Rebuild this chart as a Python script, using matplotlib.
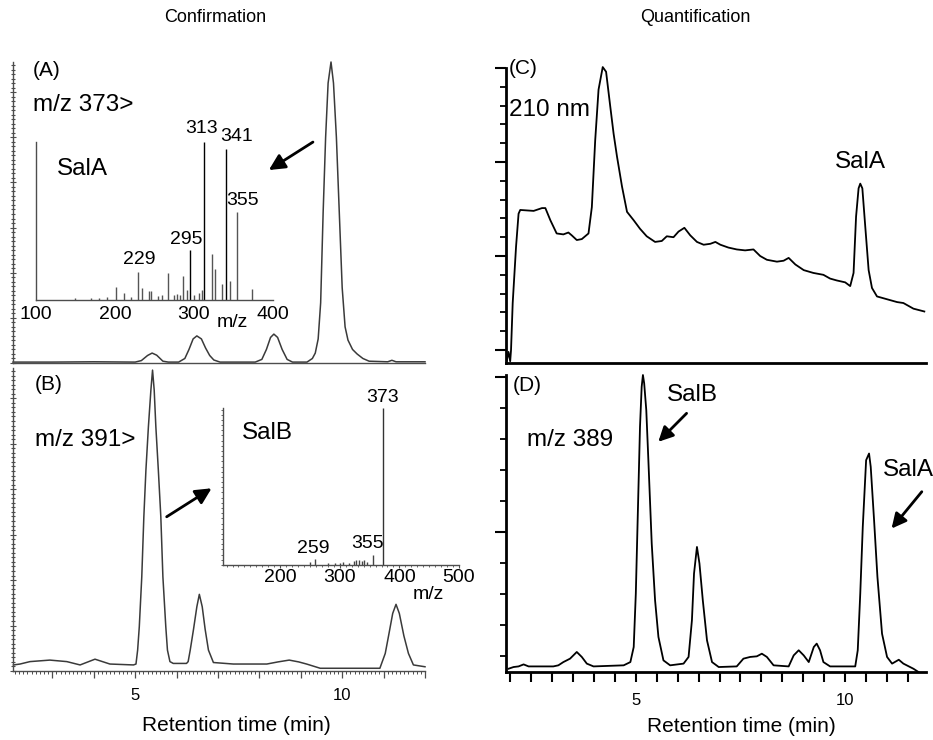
import matplotlib
matplotlib.use('Agg')
import matplotlib.pyplot as plt
from matplotlib.ticker import MultipleLocator, FuncFormatter, NullLocator

plt.rcParams['font.family'] = ['Liberation Sans', 'DejaVu Sans']

# ---------------- data ----------------
# (A) m/z 373> chromatogram: retention time (min) / intensity (% of full scale)
a_time = [2.05, 3.0, 4.0, 5.0, 5.15, 5.3, 5.41, 5.52, 5.67, 5.8,
          6.05, 6.2, 6.3, 6.4, 6.49, 6.6, 6.7, 6.8, 6.9, 7.05,
          7.9, 8.06, 8.17, 8.27, 8.35, 8.44, 8.55, 8.67, 8.8,
          9.15, 9.28, 9.35, 9.42, 9.48, 9.54, 9.6, 9.66, 9.73, 9.79, 9.86,
          9.93, 10.0, 10.07, 10.14, 10.25, 10.36, 10.5, 10.65,
          11.1, 11.2, 11.3, 12.0]
a_int = [0.3, 0.3, 0.4, 0.3, 0.8, 2.5, 3.3, 2.6, 0.6, 0.3,
         0.3, 1.5, 4.5, 8, 9, 8, 5, 2.5, 1, 0.3,
         0.3, 1.2, 4.5, 8.5, 9.6, 8.5, 4.5, 1.2, 0.3,
         0.3, 1.5, 3.3, 8, 20, 50, 75, 93, 100, 93, 75,
         50, 25, 12, 7.6, 4.5, 3, 1.5, 0.6,
         0.4, 0.9, 0.4, 0.4]

# (B) m/z 391> chromatogram
b_time = [2.06, 2.22, 2.46, 2.94, 3.35, 3.67, 4.03, 4.39, 4.96, 5.02,
          5.06, 5.10, 5.16, 5.21, 5.26, 5.32, 5.38, 5.42, 5.46, 5.50,
          5.56, 5.62, 5.67, 5.74, 5.78, 5.84, 5.92, 6.24, 6.28, 6.33,
          6.41, 6.49, 6.55, 6.62, 6.69, 6.77, 6.89, 7.37, 8.18, 8.45,
          8.72, 8.95, 9.14, 9.47, 10.91, 11.04, 11.12, 11.22, 11.30, 11.38,
          11.49, 11.60, 11.72, 12.00]
b_int = [2.0, 2.3, 3.1, 3.6, 3.1, 2.0, 3.9, 2.3, 2.0, 2.3,
         6.9, 14.6, 31.1, 50.9, 66.3, 80.6, 92.7, 99.3, 92.7, 80.6,
         66.3, 50.9, 31.1, 14.6, 6.9, 3.1, 2.5, 2.5, 3.1, 6.9,
         13.8, 21.2, 25.3, 21.2, 13.8, 6.9, 2.8, 2.3, 2.3, 3.0,
         3.6, 3.0, 2.3, 0.9, 0.9, 5.8, 11.6, 19.0, 22.0, 19.0,
         11.6, 5.8, 2.0, 1.4]

# (C) UV 210 nm chromatogram
c_time = [1.92, 1.96, 2.00, 2.02, 2.06, 2.14, 2.20, 2.24, 2.56, 2.76,
          2.84, 2.96, 3.11, 3.27, 3.39, 3.47, 3.59, 3.71, 3.87, 3.95,
          4.03, 4.11, 4.21, 4.29, 4.39, 4.47, 4.55, 4.67, 4.79, 4.95,
          5.10, 5.26, 5.46, 5.62, 5.74, 5.90, 6.02, 6.16, 6.30, 6.46,
          6.62, 6.78, 6.90, 7.02, 7.21, 7.41, 7.61, 7.81, 7.97, 8.13,
          8.37, 8.53, 8.65, 8.81, 9.01, 9.24, 9.48, 9.64, 9.80, 10.00,
          10.12, 10.20, 10.26, 10.32, 10.36, 10.41, 10.48, 10.56, 10.64, 10.76,
          11.00, 11.24, 11.39, 11.63, 11.89]
c_abs = [-0.11, -0.02, -0.12, 0.00, 0.50, 1.10, 1.45, 1.49, 1.48, 1.51,
         1.51, 1.38, 1.24, 1.23, 1.25, 1.22, 1.17, 1.18, 1.24, 1.52,
         2.23, 2.77, 3.01, 2.96, 2.59, 2.30, 2.06, 1.74, 1.47, 1.38,
         1.29, 1.21, 1.15, 1.16, 1.21, 1.20, 1.26, 1.30, 1.22, 1.15,
         1.12, 1.13, 1.15, 1.12, 1.09, 1.07, 1.06, 1.07, 1.00, 0.96,
         0.94, 0.95, 0.98, 0.91, 0.85, 0.82, 0.80, 0.76, 0.74, 0.72,
         0.68, 0.82, 1.42, 1.72, 1.77, 1.72, 1.31, 0.85, 0.66, 0.57,
         0.54, 0.51, 0.50, 0.44, 0.41]

# (D) m/z 389 chromatogram
d_time = [1.96, 2.08, 2.20, 2.32, 2.44, 3.03, 3.15, 3.27, 3.43, 3.59,
          3.71, 3.83, 3.99, 4.71, 4.87, 4.95, 5.00, 5.05, 5.10, 5.14,
          5.17, 5.20, 5.25, 5.30, 5.38, 5.46, 5.54, 5.66, 5.82, 6.14,
          6.26, 6.34, 6.39, 6.46, 6.52, 6.60, 6.70, 6.82, 6.98, 7.41,
          7.57, 7.73, 7.89, 8.01, 8.13, 8.29, 8.65, 8.77, 8.89, 9.01,
          9.13, 9.25, 9.32, 9.40, 9.48, 9.64, 10.24, 10.30, 10.36, 10.42,
          10.50, 10.57, 10.61, 10.69, 10.77, 10.88, 11.00, 11.12, 11.28, 11.39,
          11.63, 11.75]
d_sig = [0.118, 0.129, 0.133, 0.146, 0.133, 0.133, 0.140, 0.161, 0.183, 0.226,
         0.194, 0.151, 0.133, 0.140, 0.161, 0.258, 0.602, 1.140, 1.677, 1.935,
         2.011, 1.957, 1.785, 1.462, 0.925, 0.559, 0.323, 0.172, 0.140, 0.151,
         0.194, 0.430, 0.731, 0.903, 0.796, 0.559, 0.301, 0.161, 0.129, 0.133,
         0.183, 0.194, 0.198, 0.215, 0.194, 0.140, 0.133, 0.204, 0.237, 0.204,
         0.161, 0.258, 0.280, 0.237, 0.161, 0.133, 0.133, 0.237, 0.602, 1.032,
         1.462, 1.505, 1.419, 1.075, 0.710, 0.344, 0.194, 0.151, 0.176, 0.151,
         0.118, 0.097]

# MS/MS spectrum of SalA (m/z / relative intensity %)
sa_mz = [150, 170, 180, 190, 201, 211, 220, 229, 234, 243,
         246, 255, 260, 267, 275, 278, 282, 286, 291, 295,
         300, 306, 310, 313, 323, 327, 336, 341, 345, 355, 373]
sa_rel = [1, 1, 1.5, 2, 8.3, 4.5, 2, 17.8, 7.6, 5.7,
          5.7, 2.5, 3, 17.2, 3, 3.8, 3, 15.3, 6.4, 31.8,
          3, 4.5, 6.4, 100, 29.3, 19.7, 10.2, 95.5, 12.1, 55.4, 7.0]
sa_labeled = [229, 295, 313, 341, 355]

# MS/MS spectrum of SalB
sb_mz = [250, 259, 280, 292, 300, 306, 315, 324, 328, 332, 337, 341, 345, 355, 373]
sb_rel = [1.9, 3.8, 1.3, 1.3, 1.5, 1.9, 1.3, 2.5, 3.2, 3.2, 2.5, 3.2, 1.9, 6.4, 100]
sb_labeled = [259, 355, 373]

rt_ticklabels = [5, 10]

# ---------------- layout ----------------
W, H = 933, 740


def box(l, t, r, b):
    return [l / W, 1 - b / H, (r - l) / W, (b - t) / H]


fig = plt.figure(figsize=(W / 100, H / 100), dpi=100)
axA = fig.add_axes(box(13, 62, 425, 363))
axB = fig.add_axes(box(13, 368, 425, 671))
axC = fig.add_axes(box(506, 68, 926, 363))
axD = fig.add_axes(box(506, 375, 926, 672))
insA = fig.add_axes(box(36, 142, 273, 300))
insB = fig.add_axes(box(223, 408, 459, 565))

grey = '#4d4d4d'
BIG = 17.5
rt_fmt = FuncFormatter(lambda v, p: f'{v:g}' if round(v, 3) in rt_ticklabels else '')

# ---- panels A and B (confirmation, LC-MS/MS) ----
for ax in (axA, axB):
    ax.set_facecolor('none')
    for s in ('top', 'right'):
        ax.spines[s].set_visible(False)
    for s in ('left', 'bottom'):
        ax.spines[s].set_color(grey)
        ax.spines[s].set_linewidth(1.0)
    ax.set_xlim(2.05, 12.0)
    ax.set_ylim(0, 100)
    ax.yaxis.set_major_locator(MultipleLocator(15))
    ax.yaxis.set_minor_locator(MultipleLocator(1.5))
    ax.yaxis.set_major_formatter(FuncFormatter(lambda v, p: ''))
    ax.tick_params(axis='y', which='major', direction='inout', length=5, width=0.8, color=grey)
    ax.tick_params(axis='y', which='minor', direction='inout', length=3, width=0.8, color=grey)

axA.plot(a_time, a_int, color='#3a3a3a', lw=1.1, clip_on=False)
axA.xaxis.set_major_locator(NullLocator())
axA.text(0.048, 0.973, '(A)', transform=axA.transAxes, fontsize=15, va='center', ha='left')
axA.text(0.048, 0.857, 'm/z 373>', transform=axA.transAxes, fontsize=BIG, va='center', ha='left')
axA.annotate('', xy=(0.621, 0.641), xytext=(0.728, 0.734), xycoords='axes fraction',
             arrowprops=dict(arrowstyle='-|>', lw=2.0, color='black', mutation_scale=24,
                             shrinkA=0, shrinkB=0))

axB.plot(b_time, b_int, color='#3a3a3a', lw=1.1, clip_on=False)
axB.xaxis.set_major_locator(MultipleLocator(1))
axB.xaxis.set_minor_locator(MultipleLocator(0.1))
axB.xaxis.set_major_formatter(rt_fmt)
axB.tick_params(axis='x', which='major', direction='out', length=5, width=0.9, color=grey,
                labelsize=12, pad=7)
axB.tick_params(axis='x', which='minor', direction='out', length=2.5, width=0.7, color=grey)
axB.set_xlabel('Retention time (min)', fontsize=15)
axB.xaxis.set_label_coords(0.541, -0.147)
axB.text(0.053, 0.944, '(B)', transform=axB.transAxes, fontsize=15, va='center', ha='left')
axB.text(0.053, 0.762, 'm/z 391>', transform=axB.transAxes, fontsize=BIG, va='center', ha='left')
axB.annotate('', xy=(0.482, 0.603), xytext=(0.373, 0.509), xycoords='axes fraction',
             arrowprops=dict(arrowstyle='-|>', lw=2.0, color='black', mutation_scale=24,
                             shrinkA=0, shrinkB=0))

# ---- insets: MS/MS spectra ----
for ins in (insA, insB):
    ins.set_facecolor('none')
    for s in ('top', 'right'):
        ins.spines[s].set_visible(False)
    for s in ('left', 'bottom'):
        ins.spines[s].set_color(grey)
        ins.spines[s].set_linewidth(1.0)
    ins.set_ylim(0, 100)
    ins.yaxis.set_major_locator(NullLocator())

insA.set_xlim(100, 400)
sa_col = ['black' if m in sa_labeled[1:4] else '#555555' for m in sa_mz]
insA.vlines(sa_mz, 0, sa_rel, colors=sa_col, lw=1.0)
insA.set_xticks([100, 200, 300, 400])
insA.tick_params(axis='x', length=0, labelsize=14, pad=4)
insA.text(349, -14, 'm/z', fontsize=14, ha='center', va='center', clip_on=False)
insA.text(126, 82.8, 'SalA', fontsize=BIG, ha='left', va='center')
sa_label_pos = {229: (230.8, 25.5), 295: (289.9, 38.2), 313: (309.7, 108.3),
                341: (354.0, 103.2), 355: (361.6, 63.2)}
for m in sa_labeled:
    x, y = sa_label_pos[m]
    insA.text(x, y, str(m), fontsize=14, ha='center', va='center', clip_on=False)

insB.set_xlim(104, 500)
insB.vlines(sb_mz, 0, sb_rel, colors=['#444444'] * (len(sb_mz) - 1) + ['#333333'], lw=1.0)
insB.set_xticks([200, 300, 400, 500])
insB.xaxis.set_minor_locator(MultipleLocator(10))
insB.yaxis.set_minor_locator(MultipleLocator(3.3))
insB.tick_params(axis='x', which='major', length=2, color=grey, labelsize=14, pad=1)
insB.tick_params(axis='both', which='minor', length=1.5, width=0.6, color=grey)
insB.text(448, -19, 'm/z', fontsize=14, ha='center', va='center', clip_on=False)
insB.text(135.8, 83.9, 'SalB', fontsize=BIG, ha='left', va='center')
sb_label_pos = {259: (255.3, 10.8), 355: (345.7, 14.0), 373: (372.5, 106.8)}
for m in sb_labeled:
    x, y = sb_label_pos[m]
    insB.text(x, y, str(m), fontsize=14, ha='center', va='center', clip_on=False)

# ---- panels C and D (quantification) ----
for ax in (axC, axD):
    ax.set_facecolor('none')
    for s in ('top', 'right'):
        ax.spines[s].set_visible(False)
    for s in ('left', 'bottom'):
        ax.spines[s].set_color('black')
        ax.spines[s].set_linewidth(2.0)
    ax.set_xlim(1.90, 11.93)
    ax.yaxis.set_major_locator(MultipleLocator(1))
    ax.yaxis.set_minor_locator(MultipleLocator(0.2))
    ax.yaxis.set_major_formatter(FuncFormatter(lambda v, p: ''))
    ax.tick_params(axis='y', which='major', direction='out', length=8, width=1.5)
    ax.tick_params(axis='y', which='minor', direction='out', length=4, width=1.3)

axC.set_ylim(-0.138, 3.0)
axC.plot(c_time, c_abs, color='black', lw=1.3, clip_on=False)
axC.xaxis.set_major_locator(NullLocator())
axC.text(0.007, 1.0, '(C)', transform=axC.transAxes, fontsize=15, va='center', ha='left')
axC.text(0.007, 0.858, '210 nm', transform=axC.transAxes, fontsize=BIG, va='center', ha='left')
axC.text(0.8445, 0.68, 'SalA', transform=axC.transAxes, fontsize=BIG, va='center', ha='center')

axD.set_ylim(0.097, 2.011)
axD.plot(d_time, d_sig, color='black', lw=1.3, clip_on=False)
axD.xaxis.set_major_locator(MultipleLocator(0.5))
axD.xaxis.set_major_formatter(rt_fmt)
axD.tick_params(axis='x', which='major', direction='out', length=7, width=1.5,
                labelsize=12, pad=8)
axD.set_xlabel('Retention time (min)', fontsize=15)
axD.xaxis.set_label_coords(0.561, -0.150)
axD.text(0.0167, 0.966, '(D)', transform=axD.transAxes, fontsize=15, va='center', ha='left')
axD.text(0.3826, 0.933, 'SalB', transform=axD.transAxes, fontsize=BIG, va='center', ha='left')
axD.text(0.049, 0.781, 'm/z 389', transform=axD.transAxes, fontsize=BIG, va='center', ha='left')
axD.text(0.897, 0.680, 'SalA', transform=axD.transAxes, fontsize=BIG, va='center', ha='left',
         clip_on=False)
for tail, tip in (((0.430, 0.871), (0.3626, 0.775)), ((0.99, 0.607), (0.918, 0.483))):
    axD.annotate('', xy=tip, xytext=tail, xycoords='axes fraction',
                 arrowprops=dict(arrowstyle='-|>', lw=2.0, color='black', mutation_scale=22,
                                 shrinkA=0, shrinkB=0), annotation_clip=False)

# ---- column titles ----
fig.text(215 / W, 1 - 18 / H, 'Confirmation', ha='center', va='center', fontsize=13)
fig.text(695 / W, 1 - 18 / H, 'Quantification', ha='center', va='center', fontsize=13)

fig.savefig('out.png', dpi=100)
